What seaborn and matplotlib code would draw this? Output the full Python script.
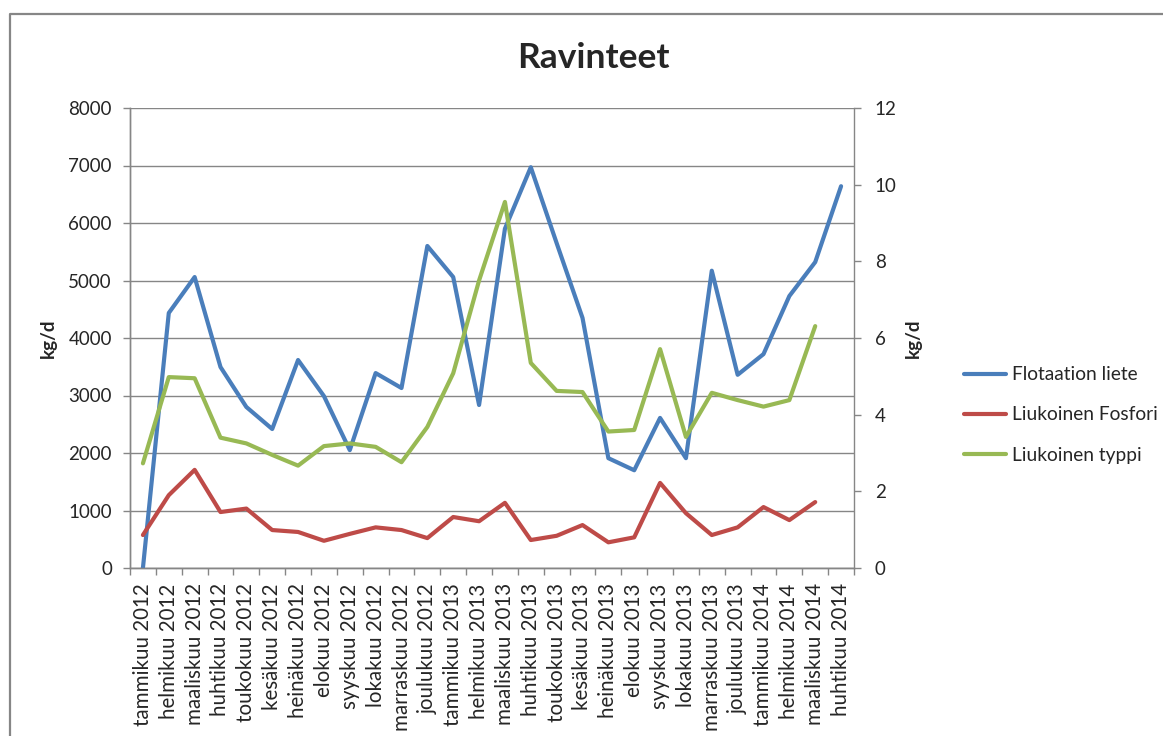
import matplotlib
matplotlib.use("Agg")
import matplotlib.pyplot as plt
from matplotlib.lines import Line2D
import seaborn as sns
import numpy as np

months = ["tammikuu 2012", "helmikuu 2012", "maaliskuu 2012", "huhtikuu 2012",
          "toukokuu 2012", "kesäkuu 2012", "heinäkuu 2012", "elokuu 2012",
          "syyskuu 2012", "lokakuu 2012", "marraskuu 2012", "joulukuu 2012",
          "tammikuu 2013", "helmikuu 2013", "maaliskuu 2013", "huhtikuu 2013",
          "toukokuu 2013", "kesäkuu 2013", "heinäkuu 2013", "elokuu 2013",
          "syyskuu 2013", "lokakuu 2013", "marraskuu 2013", "joulukuu 2013",
          "tammikuu 2014", "helmikuu 2014", "maaliskuu 2014", "huhtikuu 2014"]

flotaatio = [0, 4435, 5060, 3495, 2800, 2417, 3617, 2990, 2050, 3390, 3130, 5600,
             5060, 2835, 5900, 6970, 5650, 4350, 1910, 1700, 2610, 1910, 5170, 3360,
             3720, 4730, 5320, 6640]
fosfori = [0.86, 1.90, 2.56, 1.46, 1.55, 0.99, 0.94, 0.71, 0.89, 1.06, 0.99, 0.78,
           1.33, 1.22, 1.70, 0.73, 0.84, 1.12, 0.67, 0.80, 2.22, 1.43, 0.86, 1.06,
           1.59, 1.25, 1.72]
typpi = [2.73, 4.98, 4.95, 3.40, 3.25, 2.95, 2.67, 3.18, 3.25, 3.16, 2.76, 3.68,
         5.08, 7.50, 9.55, 5.35, 4.62, 4.59, 3.56, 3.60, 5.71, 3.42, 4.57, 4.38,
         4.21, 4.38, 6.31]

series_names = ["Flotaation liete", "Liukoinen Fosfori", "Liukoinen typpi"]
colors = ["#4A7EBB", "#BE4B48", "#98B954"]

sns.set_style("white")
plt.rcParams["font.family"] = ["Lato", "DejaVu Sans"]

W, H = 1163, 736
fig = plt.figure(figsize=(W / 100, H / 100), dpi=100)
ax = fig.add_axes([130 / W, 1 - 568 / H, (854 - 130) / W, (568 - 108) / H])
ax2 = ax.twinx()

lw = 3.0
sns.lineplot(x=np.arange(len(flotaatio)), y=flotaatio, ax=ax, color=colors[0],
             linewidth=lw, label=series_names[0], legend=False, zorder=3)
sns.lineplot(x=np.arange(len(fosfori)), y=fosfori, ax=ax2, color=colors[1],
             linewidth=lw, label=series_names[1], legend=False)
sns.lineplot(x=np.arange(len(typpi)), y=typpi, ax=ax2, color=colors[2],
             linewidth=lw, label=series_names[2], legend=False)
for l in ax.lines + ax2.lines:
    l.set_solid_capstyle("round")
    l.set_solid_joinstyle("round")

grey = "#868686"
ax.set_ylim(0, 8000)
ax2.set_ylim(0, 12)
ax.set_xlim(-0.5, len(months) - 0.5)
ax.set_yticks(np.arange(0, 8001, 1000))
ax2.set_yticks(np.arange(0, 13, 2))
ax.grid(axis="y", color=grey, linewidth=1.0)
ax.grid(axis="x", visible=False)
ax2.grid(False)

# x ticks: marks between categories, labels centered
ax.set_xticks(np.arange(-0.5, len(months), 1.0))
ax.set_xticklabels([])
ax.set_xticks(np.arange(len(months)), minor=True)
ax.set_xticklabels(months, minor=True, rotation=90, fontsize=14.8)
ax.tick_params(axis="x", which="major", length=5, color=grey, width=1, direction="out", bottom=True)
ax.tick_params(axis="x", which="minor", length=0, pad=11, bottom=True)
ax.tick_params(axis="y", length=5, color=grey, width=1, direction="out", labelsize=13.5, pad=8, left=True)
ax2.tick_params(axis="y", length=5, color=grey, width=1, direction="out", labelsize=13.5, pad=10, right=True)
ax.set_ylabel("")
ax2.set_ylabel("")

for a in (ax, ax2):
    for s in a.spines.values():
        s.set_color(grey)
        s.set_linewidth(1.0)
    a.spines["top"].set_visible(False)
ax.spines["right"].set_visible(False)

fig.text(593 / W, 1 - 58 / H, "Ravinteet", ha="center", va="center",
         fontsize=25.5, fontweight="bold")
fig.text(48 / W, 1 - 338 / H, "kg/d", ha="center", va="center", rotation=90,
         fontsize=13.5, fontweight="bold")
fig.text(913 / W, 1 - 338 / H, "kg/d", ha="center", va="center", rotation=90,
         fontsize=13.5, fontweight="bold")

handles = ax.lines[:1] + ax2.lines[:2]
fig.legend(handles, series_names, loc="center left",
           bbox_to_anchor=(947 / W, 1 - 415 / H), frameon=False, fontsize=13.8,
           handlelength=2.2, handletextpad=0.3, labelspacing=1.2)

fig.add_artist(Line2D([10 / W, 10 / W, 1.0], [0, 1 - 14 / H, 1 - 14 / H],
                      color=grey, linewidth=1.6, transform=fig.transFigure))

fig.savefig("out.png", dpi=100)
